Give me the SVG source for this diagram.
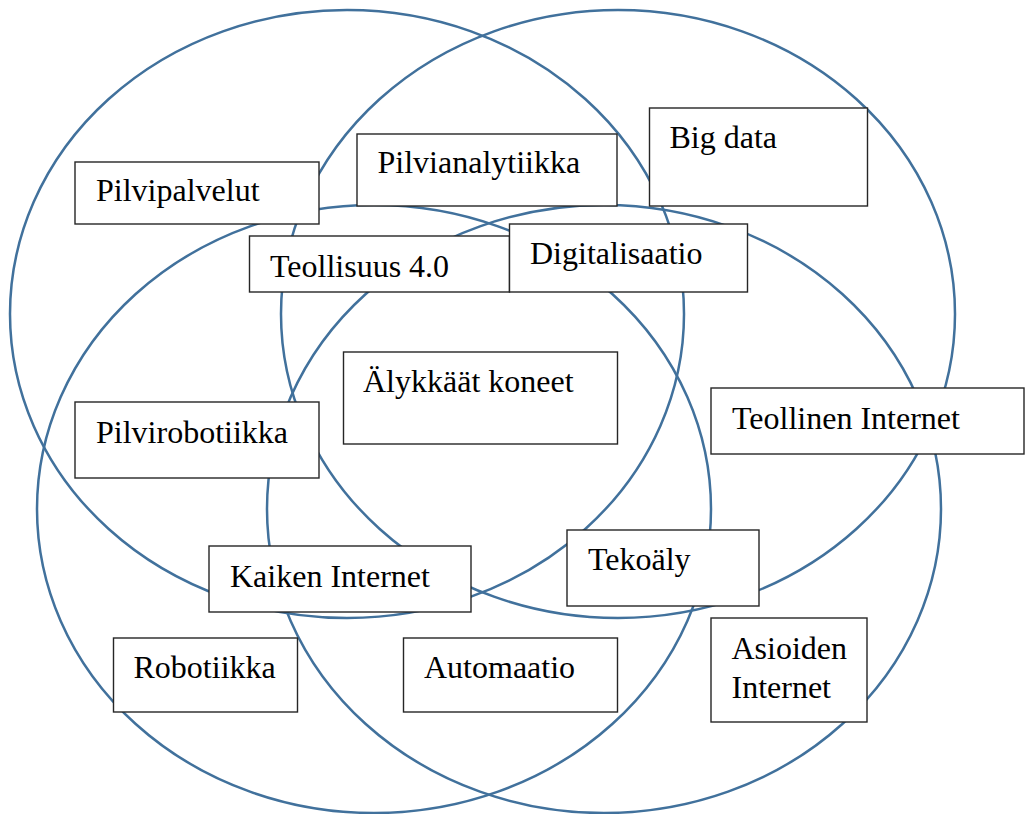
<svg xmlns="http://www.w3.org/2000/svg" width="1025" height="814" viewBox="0 0 1025 814">
<style>
.c{fill:none;stroke:#41719c;stroke-width:2.5}
.b{fill:#fff;stroke:#262626;stroke-width:1.4}
.t{font-family:"Liberation Serif","Times New Roman",serif;font-size:32px;fill:#000}
</style>
<rect width="1025" height="814" fill="#fff"/>
<g id="connectors">
<ellipse class="c" cx="347" cy="314" rx="337" ry="304"/>
<ellipse class="c" cx="618" cy="314" rx="337" ry="304"/>
<ellipse class="c" cx="374" cy="509" rx="337" ry="304"/>
<ellipse class="c" cx="604" cy="509" rx="337" ry="304"/>
</g>
<g id="n-pilvipalvelut"><rect class="b" x="75" y="162" width="244" height="62"/><text class="t" x="96" y="201">Pilvipalvelut</text></g>
<g id="n-pilvianalytiikka"><rect class="b" x="357" y="134" width="260" height="72"/><text class="t" x="377.5" y="173">Pilvianalytiikka</text></g>
<g id="n-bigdata"><rect class="b" x="649.5" y="108" width="218" height="98"/><text class="t" x="669.5" y="148">Big data</text></g>
<g id="n-teollisuus"><rect class="b" x="249.5" y="236" width="260" height="56"/><text class="t" x="270" y="276.5">Teollisuus 4.0</text></g>
<g id="n-digitalisaatio"><rect class="b" x="509.5" y="224" width="238" height="68"/><text class="t" x="530" y="263.5">Digitalisaatio</text></g>
<g id="n-alykkaat"><rect class="b" x="343.5" y="352" width="274" height="92"/><text class="t" x="363" y="391.5">Älykkäät koneet</text></g>
<g id="n-pilvirobotiikka"><rect class="b" x="75" y="402" width="244" height="76"/><text class="t" x="96" y="442.5">Pilvirobotiikka</text></g>
<g id="n-teollinen"><rect class="b" x="711" y="388" width="313" height="66"/><text class="t" x="732" y="428.5">Teollinen Internet</text></g>
<g id="n-kaiken"><rect class="b" x="209" y="546" width="262" height="66"/><text class="t" x="230" y="586.5">Kaiken Internet</text></g>
<g id="n-tekoaly"><rect class="b" x="567" y="530" width="192" height="76"/><text class="t" x="588" y="570">Tekoäly</text></g>
<g id="n-robotiikka"><rect class="b" x="113.5" y="638" width="184" height="74"/><text class="t" x="133.5" y="677.5">Robotiikka</text></g>
<g id="n-automaatio"><rect class="b" x="403.5" y="638" width="214" height="74"/><text class="t" x="424" y="677.5">Automaatio</text></g>
<g id="n-asioiden"><rect class="b" x="711" y="618" width="156" height="104"/><text class="t" x="731.5" y="658.5">Asioiden</text><text class="t" x="731.5" y="697.5">Internet</text></g>
</svg>
